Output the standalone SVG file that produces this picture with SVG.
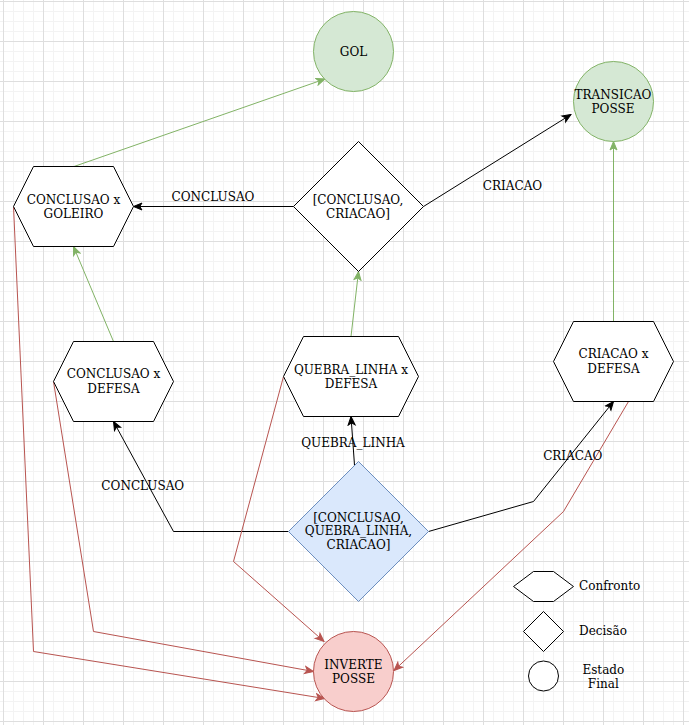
<svg xmlns="http://www.w3.org/2000/svg" width="689" height="725" viewBox="0 0 689 725">
  <style>
    text { font-family: "DejaVu Serif", "Liberation Serif", serif; font-size: 12px; fill: #000; text-anchor: middle; }
    .shape { fill: #fff; stroke: #000; stroke-width: 1; }
    .green { fill: #d5e8d4; stroke: #82b366; stroke-width: 1; }
    .red { fill: #f8cecc; stroke: #b85450; stroke-width: 1; }
    .blue { fill: #dae8fc; stroke: #6c8ebf; stroke-width: 1; }
    .edge { fill: none; stroke-width: 1; }
    .k { stroke: #000; marker-end: url(#arrowK); }
    .g { stroke: #82b366; marker-end: url(#arrowG); }
    .r { stroke: #b85450; marker-end: url(#arrowR); }
  </style>
  <defs>
    <pattern id="grid" x="3" y="1" width="40" height="40" patternUnits="userSpaceOnUse">
      <path d="M10.5,0V40M20.5,0V40M30.5,0V40M0,10.5H40M0,20.5H40M0,30.5H40" stroke="#f3f3f3" stroke-width="1" fill="none"/>
      <path d="M0.5,0V40M0,0.5H40" stroke="#dedede" stroke-width="1" fill="none"/>
    </pattern>
    <marker id="arrowK" viewBox="0 0 10 10" refX="9.5" refY="5" markerWidth="10" markerHeight="10" markerUnits="userSpaceOnUse" orient="auto">
      <path d="M1,1.5 L9.5,5 L1,8.5 L3.2,5 Z" fill="#000" stroke="#000" stroke-width="1"/>
    </marker>
    <marker id="arrowG" viewBox="0 0 10 10" refX="9.5" refY="5" markerWidth="10" markerHeight="10" markerUnits="userSpaceOnUse" orient="auto">
      <path d="M1,1.5 L9.5,5 L1,8.5 L3.2,5 Z" fill="#82b366" stroke="#82b366" stroke-width="1"/>
    </marker>
    <marker id="arrowR" viewBox="0 0 10 10" refX="9.5" refY="5" markerWidth="10" markerHeight="10" markerUnits="userSpaceOnUse" orient="auto">
      <path d="M1,1.5 L9.5,5 L1,8.5 L3.2,5 Z" fill="#b85450" stroke="#b85450" stroke-width="1"/>
    </marker>
  </defs>

  <!-- background grid -->
  <rect x="0" y="0" width="689" height="725" fill="#fff"/>
  <rect x="0" y="0" width="689" height="725" fill="url(#grid)"/>

  <!-- connectors -->
  <g id="connectors">
    <!-- black transitions -->
    <polyline class="edge k" points="293.5,206.5 133.5,206.5"/>
    <polyline class="edge k" points="423.5,206.5 571,114.5"/>
    <polyline class="edge k" points="354.5,465 351,416.5"/>
    <polyline class="edge k" points="288.5,531.5 173.5,531.5 113.5,421.5"/>
    <polyline class="edge k" points="428.5,531.5 533.5,501.5 613.5,401.5"/>
    <!-- green: success paths -->
    <polyline class="edge g" points="74,166.5 325,79"/>
    <polyline class="edge g" points="113.5,341.5 73.5,246.5"/>
    <polyline class="edge g" points="351,336.5 358.5,271.5"/>
    <polyline class="edge g" points="613.5,321.5 613.5,141.5"/>
    <!-- red: failure paths -->
    <polyline class="edge r" points="13.5,206.5 33.5,651.5 324.5,698.5"/>
    <polyline class="edge r" points="53.5,381.5 93.5,631.5 313.5,671.5"/>
    <polyline class="edge r" points="283.5,376.5 233.5,561.5 324,641.5"/>
    <polyline class="edge r" points="628.5,401.5 563.5,511.5 394,670.5"/>
    <!-- edge labels -->
    <text x="213" y="201.4">CONCLUSAO</text>
    <text x="512.5" y="190.4">CRIACAO</text>
    <text x="353" y="447">QUEBRA_LINHA</text>
    <text x="142.8" y="490.4">CONCLUSAO</text>
    <text x="572.8" y="460.4">CRIACAO</text>
  </g>

  <!-- nodes -->
  <g id="gol">
    <circle class="green" cx="353.5" cy="51.5" r="40"/>
    <text x="353.5" y="55.9">GOL</text>
  </g>
  <g id="transicao-posse">
    <circle class="green" cx="613.5" cy="101.5" r="40"/>
    <text x="613" y="99.2">TRANSICAO</text>
    <text x="613" y="112.6">POSSE</text>
  </g>
  <g id="conclusao-goleiro">
    <polygon class="shape" points="13.5,206.5 33.5,166.5 113.5,166.5 133.5,206.5 113.5,246.5 33.5,246.5"/>
    <text x="73.5" y="204.2">CONCLUSAO x</text>
    <text x="73.5" y="217.6">GOLEIRO</text>
  </g>
  <g id="decisao-conclusao-criacao">
    <polygon class="shape" points="293.5,206.5 358.5,141.5 423.5,206.5 358.5,271.5"/>
    <text x="358" y="204.2">[CONCLUSAO,</text>
    <text x="358" y="217.6">CRIACAO]</text>
  </g>
  <g id="conclusao-defesa">
    <polygon class="shape" points="53.5,381.5 73.5,341.5 153.5,341.5 173.5,381.5 153.5,421.5 73.5,421.5"/>
    <text x="113.5" y="378.4">CONCLUSAO x</text>
    <text x="113.5" y="392.7">DEFESA</text>
  </g>
  <g id="quebra-linha-defesa">
    <polygon class="shape" points="283.5,376.5 303.5,336.5 398.5,336.5 418.5,376.5 398.5,416.5 303.5,416.5"/>
    <text x="351" y="374.4">QUEBRA_LINHA x</text>
    <text x="351" y="387.7">DEFESA</text>
  </g>
  <g id="criacao-defesa">
    <polygon class="shape" points="553.5,361.5 573.5,321.5 653.5,321.5 673.5,361.5 653.5,401.5 573.5,401.5"/>
    <text x="613.5" y="358.4">CRIACAO x</text>
    <text x="613.5" y="372.7">DEFESA</text>
  </g>
  <g id="decisao-inicial">
    <polygon class="blue" points="288.5,531.5 358.5,461.5 428.5,531.5 358.5,601.5"/>
    <text x="358.5" y="522.1">[CONCLUSAO,</text>
    <text x="358.5" y="535.4">QUEBRA_LINHA,</text>
    <text x="358.5" y="549.4">CRIACAO]</text>
  </g>
  <g id="inverte-posse">
    <circle class="red" cx="353.5" cy="671.5" r="40"/>
    <text x="353.5" y="669.2">INVERTE</text>
    <text x="353.5" y="682.6">POSSE</text>
  </g>

  <!-- legend -->
  <g id="legenda-confronto">
    <polygon class="shape" points="513.5,586.5 533.5,571.5 553.5,571.5 573.5,586.5 553.5,601.5 533.5,601.5"/>
    <text x="609.7" y="590.4">Confronto</text>
  </g>
  <g id="legenda-decisao">
    <polygon class="shape" points="523.5,631.5 543.5,611.5 563.5,631.5 543.5,651.5"/>
    <text x="603" y="635.4">Decisão</text>
  </g>
  <g id="legenda-estado-final">
    <circle class="shape" cx="543.5" cy="676" r="15"/>
    <text x="603.3" y="674.4">Estado</text>
    <text x="603.3" y="687.8">Final</text>
  </g>
</svg>
